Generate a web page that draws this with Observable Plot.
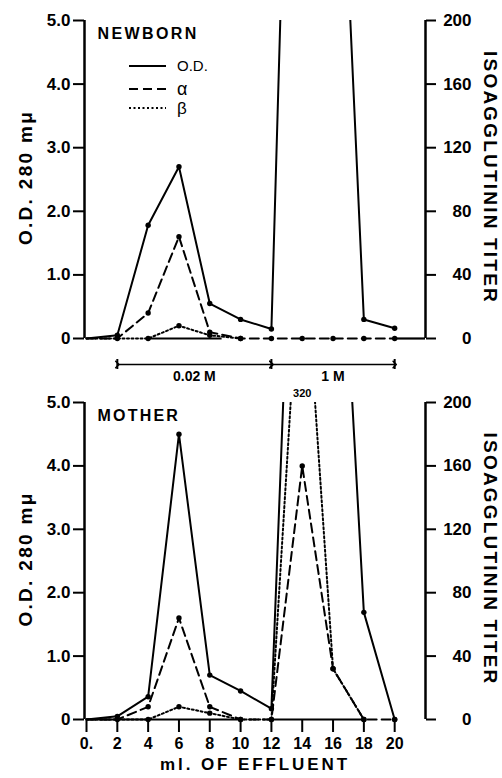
<!DOCTYPE html>
<html><head><meta charset="utf-8">
<script src="https://cdn.jsdelivr.net/npm/d3@7"></script>
<script src="https://cdn.jsdelivr.net/npm/@observablehq/plot@0.6"></script>
<style>
html,body{margin:0;padding:0;background:#fff;overflow:hidden;}
#chart{width:502px;height:778px;}
#chart svg{display:block;overflow:visible;}
</style></head><body><div id="chart"></div>
<script>
// ml of effluent (fractions)
const ml = [0, 2, 4, 6, 8, 10, 12, 14, 16, 18, 20];
// NEWBORN
const newbornOD    = [0, 0.05, 1.78, 2.70, 0.55, 0.30, 0.15, 17, 11, 0.30, 0.16];
const newbornAlpha = [0, 0, 16, 64, 4, 0, 0, 0, 0, 0, 0];
const newbornBeta  = [0, 0, 0, 8, 2, 0];
// MOTHER
const motherOD    = [0, 0.05, 0.36, 4.5, 0.70, 0.45, 0.17, 12.8, 10.5, 1.69, 0];
const motherAlpha = [0, 0, 8, 64, 8, 0, 0, 160, 32, 0, 0];
const motherBeta  = [0, 0, 0, 8, 4, 0, 0, 320, 32, 0];
// axes
const odTicks = [0, 1, 2, 3, 4, 5];
const titerPerOD = 40; // right axis 0..200 on the same frame as O.D. 0..5
const xTicks = [0, 2, 4, 6, 8, 10, 12, 14, 16, 18, 20];
const xDomain = [-0.13, 22];
// elution buffers
const bufferStart = [2, 12];
const bufferEnd   = [12, 20];
const bufferLabel = ["0.02 M", "1 M"];
// baseline pieces
const newbornBaseStart = [4, 20];
const newbornBaseEnd   = [8.8, 22];
const motherBaseStart  = [0, 12];
const motherBaseEnd    = [10, 18];

const FONT = "Liberation Sans, Arial, sans-serif";
const series = (ys) => ys.map((v, i) => ({x: ml[i], v}));
const buffers = bufferStart.map((s, i) => ({s, e: bufferEnd[i], label: bufferLabel[i], mid: (s + bufferEnd[i]) / 2}));
const segs = (a, b) => a.map((s, i) => ({s, e: b[i]}));

const spacing = {"ISOAGGLUTININ TITER": 2.2, "O.D. 280 mμ": 2.3, "NEWBORN": 2.4, "MOTHER": 2.2, "ml. OF EFFLUENT": 2.9};

function panel({od, alpha, beta, title, height, marginTop, marginBottom, bottomAxis, baseline, bracket}) {
  const odData = series(od);
  const aData = series(alpha).map(d => ({...d, y: d.v / titerPerOD}));
  const bData = series(beta).map(d => ({...d, y: d.v / titerPerOD}));
  const marks = [
    Plot.ruleX([xDomain[0]], {y1: 0, y2: 5, strokeWidth: 2.5}),
    Plot.ruleX([xDomain[1]], {y1: 0, y2: 5, strokeWidth: 2.5}),
    Plot.axisY({anchor: "left", ticks: odTicks, tickFormat: d => d === 0 ? "0" : d.toFixed(1), tickSize: 11, tickPadding: 3, fontSize: 17, fontWeight: "bold", strokeWidth: 2, label: null}),
    Plot.axisY({anchor: "right", ticks: odTicks, tickFormat: d => String(d * titerPerOD), tickSize: 10, tickPadding: 36, textAnchor: "end", fontSize: 17, fontWeight: "bold", strokeWidth: 2, label: null}),
    Plot.ruleY(baseline, {y: 0, x1: "s", x2: "e", strokeWidth: 2.2}),
    Plot.line(odData, {x: "x", y: "v", stroke: "black", strokeWidth: 2, clip: true}),
    Plot.line(aData, {x: "x", y: "y", stroke: "black", strokeWidth: 2, strokeDasharray: "9,5", clip: true}),
    Plot.line(bData, {x: "x", y: "y", stroke: "black", strokeWidth: 2, strokeDasharray: "2,2.5", clip: true}),
    Plot.dot(odData.filter(d => d.x > 0 && d.v <= 5), {x: "x", y: "v", r: 2.7, fill: "black"}),
    Plot.dot(aData.filter(d => d.x > 0 && d.y <= 5), {x: "x", y: "y", r: 2.7, fill: "black"}),
    Plot.dot(bData.filter(d => d.x > 2 && d.y <= 5), {x: "x", y: "y", r: 2.7, fill: "black"}),
    Plot.text(bData.filter(d => d.y > 5), {x: "x", y: () => 5, text: d => String(d.v), dy: -9, fontSize: 11, fontWeight: "bold"}),
    Plot.text([title], {frameAnchor: "top-left", dx: 13, dy: 7, textAnchor: "start", fontSize: 16, fontWeight: "bold"}),
    Plot.text(["O.D. 280 mμ"], {frameAnchor: "left", dx: -59, dy: -2, rotate: -90, textAnchor: "middle", fontSize: 19, fontWeight: "bold"}),
    Plot.text(["ISOAGGLUTININ TITER"], {frameAnchor: "right", dx: 65, dy: -2, rotate: 90, textAnchor: "middle", fontSize: 19, fontWeight: "bold"})
  ];
  if (bottomAxis) {
    marks.push(
      Plot.axisX({ticks: xTicks, tickFormat: d => d === 0 ? "0." : String(d), tickSize: 13, tickPadding: 5, fontSize: 16, fontWeight: "bold", strokeWidth: 2, label: null}),
      Plot.text(["ml. OF EFFLUENT"], {frameAnchor: "bottom", dy: 50, fontSize: 17, fontWeight: "bold"})
    );
  }
  if (bracket) {
    marks.push(
      Plot.link(buffers, {x1: "s", x2: "e", y1: () => 0, y2: () => 0, dy: 26, strokeWidth: 1.6, markerStart: "arrow", markerEnd: "arrow"}),
      Plot.ruleX([...bufferStart, bufferEnd[bufferEnd.length - 1]], {y1: 0, y2: 0, dy: 26, insetTop: -5, insetBottom: -5, strokeWidth: 2}),
      Plot.text(buffers, {x: "mid", y: () => 0, text: "label", dy: 38, fontSize: 14, fontWeight: "bold"})
    );
  }
  const svg = Plot.plot({
    width: 502, height, marginTop, marginBottom, marginLeft: 84, marginRight: 77,
    style: {fontFamily: FONT, color: "black", background: "white", overflow: "visible"},
    x: {domain: xDomain, axis: null},
    y: {domain: [0, 5], axis: null},
    marks
  });
  svg.querySelectorAll("clipPath rect").forEach(r => {
    r.setAttribute("height", +r.getAttribute("height") + 4);
  });
  svg.querySelectorAll("text").forEach(t => {
    const s = spacing[t.textContent];
    if (s) t.setAttribute("letter-spacing", s);
  });
  return svg;
}

const topSvg = panel({od: newbornOD, alpha: newbornAlpha, beta: newbornBeta, title: "NEWBORN",
  height: 384, marginTop: 20, marginBottom: 46, bottomAxis: false, baseline: segs(newbornBaseStart, newbornBaseEnd), bracket: true});
const bottomSvg = panel({od: motherOD, alpha: motherAlpha, beta: motherBeta, title: "MOTHER",
  height: 394, marginTop: 18, marginBottom: 59, bottomAxis: true, baseline: segs(motherBaseStart, motherBaseEnd), bracket: false});

const lg = d3.select(topSvg).append("g").attr("font-family", FONT).attr("text-anchor", "start");
const legendItems = [["O.D.", null, 66, 15], ["α", "9,5", 89, 18], ["β", "2,2.5", 108, 17]];
legendItems.forEach(([label, dash, y, fs]) => {
  lg.append("line").attr("x1", 129).attr("x2", 166).attr("y1", y).attr("y2", y)
    .attr("stroke", "black").attr("stroke-width", 2).attr("stroke-dasharray", dash);
  lg.append("text").attr("x", 177).attr("y", y).attr("dy", "0.35em").attr("font-size", fs).text(label);
});

document.getElementById("chart").append(topSvg, bottomSvg);
</script></body></html>
